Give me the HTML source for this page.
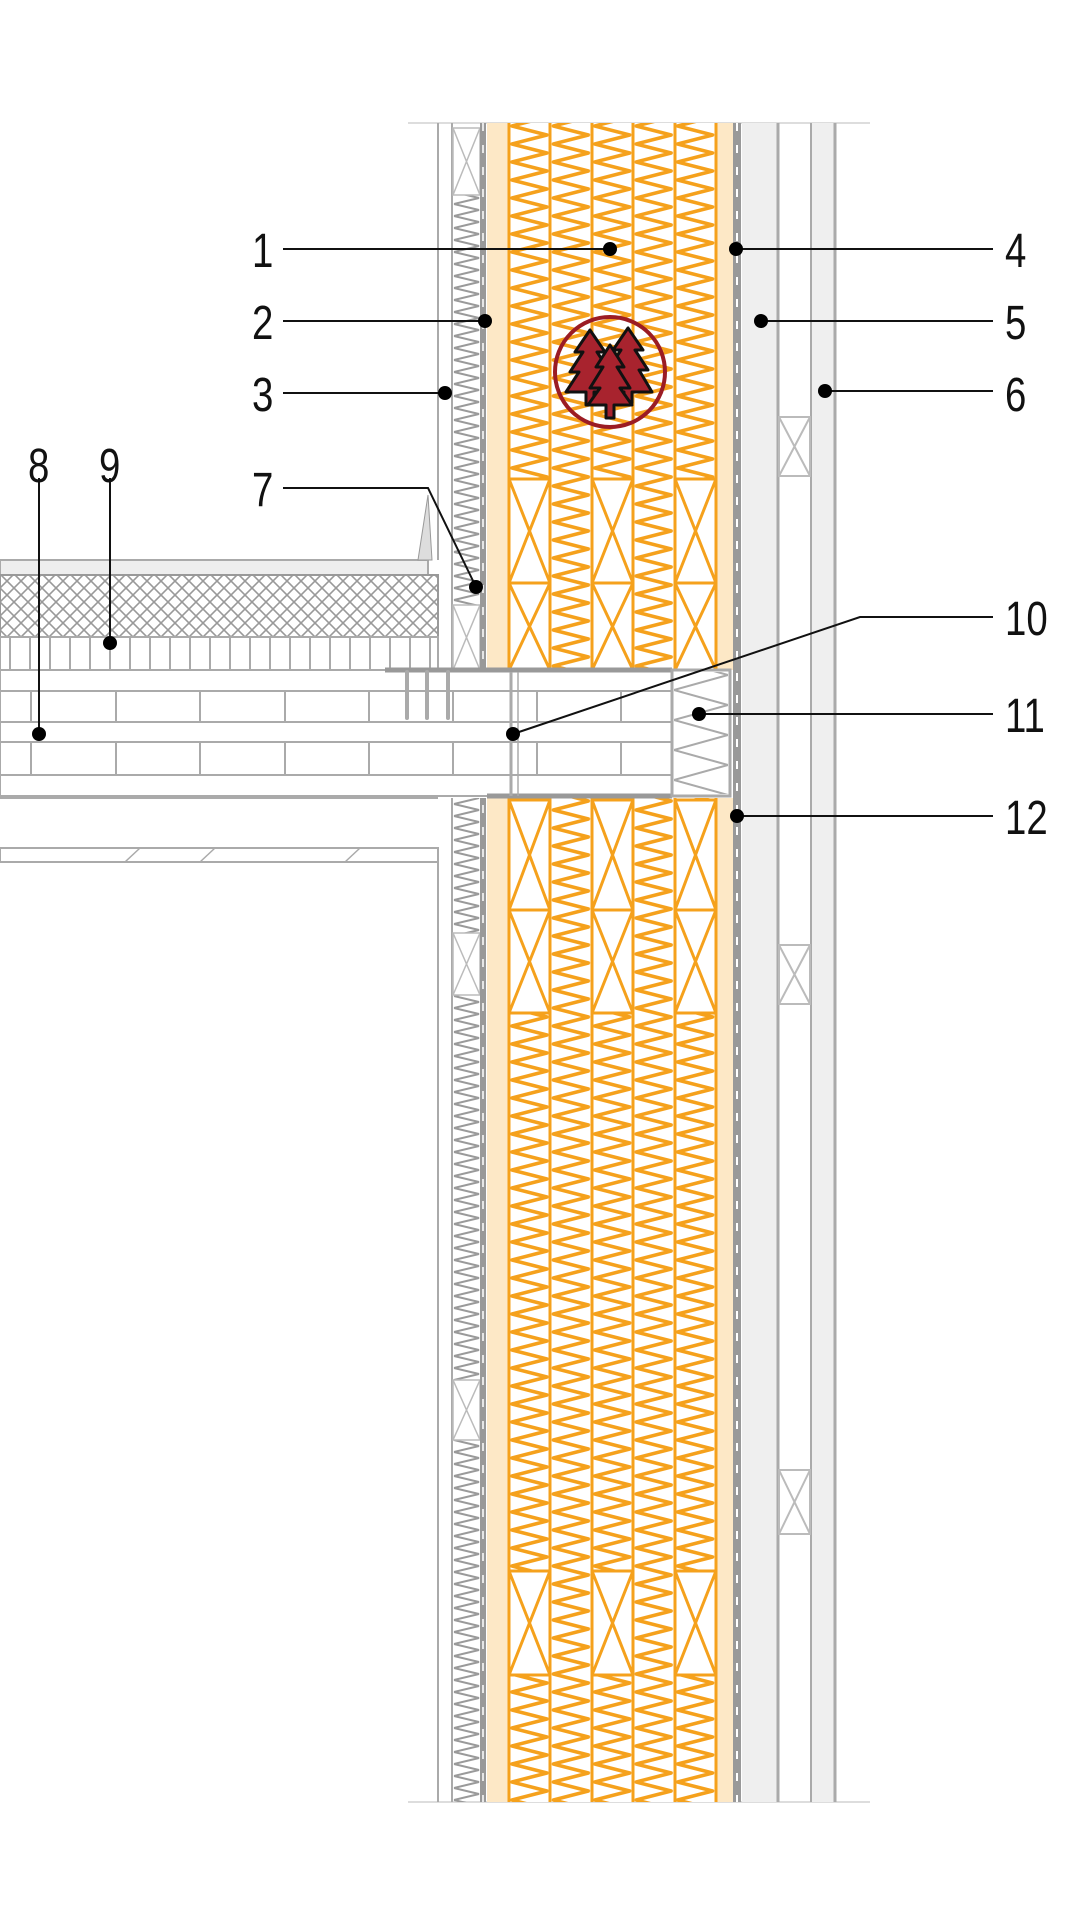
<!DOCTYPE html>
<html><head><meta charset="utf-8"><style>
html,body{margin:0;padding:0;background:#fff;}
svg{display:block;}
text{font-family:"Liberation Sans",sans-serif;font-size:48px;fill:#111;}
</style></head><body>
<svg width="1080" height="1920" viewBox="0 0 1080 1920" xmlns="http://www.w3.org/2000/svg">
<defs>
<pattern id="zz" x="509" y="0" width="41.4" height="18" patternUnits="userSpaceOnUse">
<polyline points="3,0 38,9 3,18" fill="none" stroke="#f5a11c" stroke-width="3.5" stroke-linecap="round" stroke-linejoin="round"/>
</pattern>
<pattern id="gz" x="453" y="0" width="27" height="12" patternUnits="userSpaceOnUse">
<polyline points="1,0 26,6 1,12" fill="none" stroke="#9a9a9a" stroke-width="2"/>
</pattern>
<pattern id="gz2" x="672" y="0" width="58" height="30" patternUnits="userSpaceOnUse">
<polyline points="2,0 56,15 2,30" fill="none" stroke="#aaa" stroke-width="2"/>
</pattern>
<pattern id="xh" width="14" height="14" patternUnits="userSpaceOnUse">
<path d="M0,0 L14,14 M14,0 L0,14" stroke="#999" stroke-width="1.6"/>
</pattern>
<pattern id="bat" x="0" width="20" height="40" patternUnits="userSpaceOnUse">
<line x1="10" y1="0" x2="10" y2="40" stroke="#aaa" stroke-width="2"/>
</pattern>
</defs>

<line x1="408" y1="123" x2="870" y2="123" stroke="#ddd" stroke-width="2"/>
<line x1="408" y1="1802" x2="870" y2="1802" stroke="#ddd" stroke-width="2"/>

<rect x="742" y="123" width="36" height="1679" fill="#efefef"/>
<line x1="778" y1="123" x2="778" y2="1802" stroke="#aaa" stroke-width="3"/>
<rect x="810" y="123" width="25" height="1679" fill="#efefef"/>
<line x1="811" y1="123" x2="811" y2="1802" stroke="#aaa" stroke-width="2"/>
<line x1="835" y1="123" x2="835" y2="1802" stroke="#aaa" stroke-width="3"/>
<g fill="#fff" stroke="#bbb" stroke-width="2">
<rect x="779" y="417" width="31" height="59"/><path d="M779,417 L810,476 M810,417 L779,476" />
<rect x="779" y="945" width="31" height="59"/><path d="M779,945 L810,1004 M810,945 L779,1004" />
<rect x="779" y="1470" width="31" height="64"/><path d="M779,1470 L810,1534 M810,1470 L779,1534" />
</g>

<rect x="487" y="123" width="247" height="547" fill="#fde8c6"/>
<rect x="487" y="798" width="247" height="1004" fill="#fde8c6"/>
<rect x="509" y="123" width="207" height="547" fill="#fff"/>
<rect x="509" y="123" width="207" height="547" fill="url(#zz)"/>
<rect x="509" y="798" width="207" height="1004" fill="#fff"/>
<rect x="509" y="798" width="207" height="1004" fill="url(#zz)"/>
<g fill="#fff" stroke="#f5a11c" stroke-width="3">
<g id="studU">
<rect x="509" y="479" width="41" height="104"/><path d="M509,479 L550,583 M550,479 L509,583"/>
<rect x="509" y="583" width="41" height="87"/><path d="M509,583 L550,670 M550,583 L509,670"/>
</g>
<use href="#studU" x="83"/><use href="#studU" x="166"/>
<g id="studL">
<rect x="509" y="800" width="41" height="110"/><path d="M509,800 L550,910 M550,800 L509,910"/>
<rect x="509" y="910" width="41" height="103"/><path d="M509,910 L550,1013 M550,910 L509,1013"/>
</g>
<use href="#studL" x="83"/><use href="#studL" x="166"/>
<g id="studB"><rect x="509" y="1571" width="41" height="104"/><path d="M509,1571 L550,1675 M550,1571 L509,1675"/></g>
<use href="#studB" x="83"/><use href="#studB" x="166"/>
</g>
<g stroke="#f5a11c" stroke-width="3">
<line x1="509" y1="123" x2="509" y2="670"/><line x1="550" y1="123" x2="550" y2="670"/>
<line x1="592" y1="123" x2="592" y2="670"/><line x1="633" y1="123" x2="633" y2="670"/>
<line x1="675" y1="123" x2="675" y2="670"/><line x1="716" y1="123" x2="716" y2="670"/>
<line x1="509" y1="798" x2="509" y2="1802"/><line x1="550" y1="798" x2="550" y2="1802"/>
<line x1="592" y1="798" x2="592" y2="1802"/><line x1="633" y1="798" x2="633" y2="1802"/>
<line x1="675" y1="798" x2="675" y2="1802"/><line x1="716" y1="798" x2="716" y2="1802"/>
</g>

<line x1="737" y1="123" x2="737" y2="1802" stroke="#999" stroke-width="8"/>
<line x1="737" y1="123" x2="737" y2="1802" stroke="#fff" stroke-width="2" stroke-dasharray="8 14"/>

<line x1="438" y1="123" x2="438" y2="560" stroke="#aaa" stroke-width="2"/>
<line x1="438" y1="848" x2="438" y2="1802" stroke="#aaa" stroke-width="2"/>
<line x1="452" y1="123" x2="452" y2="670" stroke="#aaa" stroke-width="2"/>
<line x1="452" y1="798" x2="452" y2="1802" stroke="#aaa" stroke-width="2"/>
<rect x="453" y="195" width="27" height="410" fill="url(#gz)"/>
<rect x="453" y="798" width="27" height="135" fill="url(#gz)"/>
<rect x="453" y="995" width="27" height="385" fill="url(#gz)"/>
<rect x="453" y="1440" width="27" height="362" fill="url(#gz)"/>
<g fill="none" stroke="#bbb" stroke-width="1.5">
<rect x="453" y="128" width="27" height="67"/><path d="M453,128 L480,195 M480,128 L453,195"/>
<rect x="453" y="605" width="27" height="65"/><path d="M453,605 L480,670 M480,605 L453,670"/>
<rect x="453" y="933" width="27" height="62"/><path d="M453,933 L480,995 M480,933 L453,995"/>
<rect x="453" y="1380" width="27" height="60"/><path d="M453,1380 L480,1440 M480,1380 L453,1440"/>
</g>
<line x1="483" y1="123" x2="483" y2="670" stroke="#999" stroke-width="6"/>
<line x1="483" y1="798" x2="483" y2="1802" stroke="#999" stroke-width="6"/>
<line x1="483" y1="123" x2="483" y2="1802" stroke="#fff" stroke-width="1.5" stroke-dasharray="8 14"/>

<rect x="0" y="560" width="428" height="15" fill="#eee" stroke="#aaa" stroke-width="2"/>
<path d="M418,560 L428,495 L432,560 Z" fill="#ddd" stroke="#999" stroke-width="1"/>
<rect x="0" y="575" width="438" height="62" fill="url(#xh)" stroke="#999" stroke-width="2"/>
<rect x="0" y="637" width="438" height="33" fill="url(#bat)" stroke="#aaa" stroke-width="2"/>
<rect x="0" y="670" width="672" height="126" fill="#fff" stroke="#aaa" stroke-width="2"/>
<g stroke="#aaa" stroke-width="2">
<line x1="0" y1="691" x2="672" y2="691"/><line x1="0" y1="722" x2="672" y2="722"/>
<line x1="0" y1="742" x2="672" y2="742"/><line x1="0" y1="775" x2="672" y2="775"/>
<line x1="31" y1="691" x2="31" y2="722"/><line x1="116" y1="691" x2="116" y2="722"/><line x1="200" y1="691" x2="200" y2="722"/><line x1="285" y1="691" x2="285" y2="722"/><line x1="369" y1="691" x2="369" y2="722"/><line x1="453" y1="691" x2="453" y2="722"/><line x1="537" y1="691" x2="537" y2="722"/><line x1="621" y1="691" x2="621" y2="722"/>
<line x1="31" y1="742" x2="31" y2="775"/><line x1="116" y1="742" x2="116" y2="775"/><line x1="200" y1="742" x2="200" y2="775"/><line x1="285" y1="742" x2="285" y2="775"/><line x1="369" y1="742" x2="369" y2="775"/><line x1="453" y1="742" x2="453" y2="775"/><line x1="537" y1="742" x2="537" y2="775"/><line x1="621" y1="742" x2="621" y2="775"/>
</g>
<line x1="385" y1="670" x2="672" y2="670" stroke="#999" stroke-width="5"/>
<line x1="487" y1="796" x2="672" y2="796" stroke="#999" stroke-width="5"/>
<g stroke="#aaa" stroke-width="4" stroke-linecap="round">
<line x1="407" y1="672" x2="407" y2="718"/><line x1="427" y1="672" x2="427" y2="718"/><line x1="448" y1="672" x2="448" y2="718"/>
</g>
<line x1="511" y1="672" x2="511" y2="796" stroke="#aaa" stroke-width="3"/>
<line x1="518" y1="672" x2="518" y2="796" stroke="#aaa" stroke-width="1.5"/>
<rect x="672" y="670" width="58" height="126" fill="#fff" stroke="#aaa" stroke-width="3"/>
<rect x="674" y="672" width="54" height="122" fill="url(#gz2)"/>
<line x1="0" y1="798" x2="438" y2="798" stroke="#aaa" stroke-width="2"/>
<rect x="0" y="848" width="438" height="14" fill="#fff" stroke="#aaa" stroke-width="2"/>
<g stroke="#aaa" stroke-width="1.5"><line x1="125" y1="862" x2="140" y2="848"/><line x1="200" y1="862" x2="215" y2="848"/><line x1="345" y1="862" x2="360" y2="848"/></g>

<circle cx="610" cy="372" r="55" fill="none" stroke="#9b1c24" stroke-width="4"/>
<g fill="#a8232e" stroke="#111" stroke-width="3" stroke-linejoin="round">
<path d="M590,330 L575,352 L583,352 L570,372 L579,372 L566,392 L586,392 L586,405 L594,405 L594,392 L614,392 L601,372 L610,372 L597,352 L605,352 Z"/>
<path d="M628,328 L613,350 L621,350 L608,370 L617,370 L604,392 L624,392 L624,403 L632,403 L632,392 L652,392 L639,370 L648,370 L635,350 L643,350 Z"/>
<path d="M610,345 L596,367 L603,367 L590,388 L600,388 L588,405 L606,405 L606,418 L614,418 L614,405 L632,405 L620,388 L630,388 L617,367 L624,367 Z"/>
</g>

<g stroke="#111" stroke-width="2" fill="none">
<line x1="283" y1="249" x2="610" y2="249"/>
<line x1="283" y1="321" x2="485" y2="321"/>
<line x1="283" y1="393" x2="445" y2="393"/>
<polyline points="283,488 428,488 476,587"/>
<line x1="736" y1="249" x2="993" y2="249"/>
<line x1="761" y1="321" x2="993" y2="321"/>
<line x1="825" y1="391" x2="993" y2="391"/>
<polyline points="993,617 860,617 513,734"/>
<line x1="699" y1="714" x2="993" y2="714"/>
<line x1="737" y1="816" x2="993" y2="816"/>
<line x1="39" y1="478" x2="39" y2="734"/>
<line x1="110" y1="478" x2="110" y2="643"/>
</g>
<g fill="#000">
<circle cx="610" cy="249" r="7"/><circle cx="485" cy="321" r="7"/><circle cx="445" cy="393" r="7"/>
<circle cx="476" cy="587" r="7"/><circle cx="736" cy="249" r="7"/><circle cx="761" cy="321" r="7"/>
<circle cx="825" cy="391" r="7"/><circle cx="513" cy="734" r="7"/><circle cx="699" cy="714" r="7"/>
<circle cx="737" cy="816" r="7"/><circle cx="39" cy="734" r="7"/><circle cx="110" cy="643" r="7"/>
</g>
<g>
<text x="252" y="267" transform="translate(252 0) scale(0.8 1) translate(-252 0)">1</text>
<text x="252" y="339" transform="translate(252 0) scale(0.8 1) translate(-252 0)">2</text>
<text x="252" y="411" transform="translate(252 0) scale(0.8 1) translate(-252 0)">3</text>
<text x="252" y="506" transform="translate(252 0) scale(0.8 1) translate(-252 0)">7</text>
<text x="1005" y="267" transform="translate(1005 0) scale(0.8 1) translate(-1005 0)">4</text>
<text x="1005" y="339" transform="translate(1005 0) scale(0.8 1) translate(-1005 0)">5</text>
<text x="1005" y="411" transform="translate(1005 0) scale(0.8 1) translate(-1005 0)">6</text>
<text x="1005" y="635" transform="translate(1005 0) scale(0.8 1) translate(-1005 0)">10</text>
<text x="1005" y="732" transform="translate(1005 0) scale(0.8 1) translate(-1005 0)">11</text>
<text x="1005" y="834" transform="translate(1005 0) scale(0.8 1) translate(-1005 0)">12</text>
<text x="28" y="482" transform="translate(28 0) scale(0.8 1) translate(-28 0)">8</text>
<text x="99" y="482" transform="translate(99 0) scale(0.8 1) translate(-99 0)">9</text>
</g>
</svg>
</body></html>
